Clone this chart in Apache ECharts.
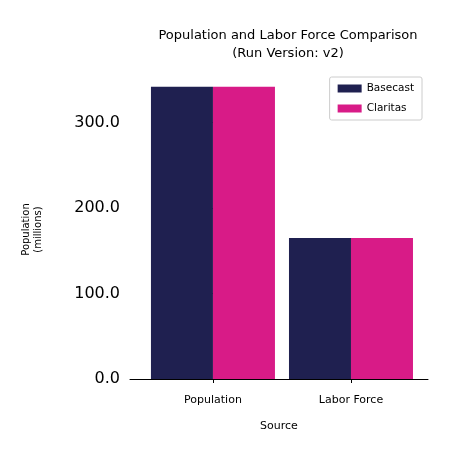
<!DOCTYPE html><html><head><meta charset="utf-8"><script src="https://cdn.jsdelivr.net/npm/echarts@6/dist/echarts.min.js"></script></head><body style="margin:0"><div id="c" style="width:450px;height:450px"></div><script>
const categories=['Population','Labor Force'];
const basecast=[342,165];
const claritas=[342,165];
const yTicks=[0,100,200,300];
const ch=echarts.init(document.getElementById('c'));
const F='DejaVu Sans';
ch.setOption({
 animation:false,
 title:{text:'Population and Labor Force Comparison\n(Run Version: v2)',left:283,top:22,textAlign:'center',textStyle:{fontFamily:F,fontSize:13,fontWeight:'normal',color:'#000',lineHeight:18}},
 legend:{right:28,top:77,orient:'vertical',itemWidth:24,itemHeight:8,itemGap:9,padding:[6,8],borderColor:'#ccc',borderWidth:1,borderRadius:2,textStyle:{fontFamily:F,fontSize:10.5,color:'#000'},data:['Basecast','Claritas'],icon:'rect'},
 grid:{left:130,right:22,top:80,bottom:71},
 xAxis:{type:'value',min:-0.601,max:1.558,name:'Source',nameLocation:'middle',nameGap:42,nameTextStyle:{fontFamily:F,fontSize:11,color:'#000'},splitLine:{show:false},axisLine:{show:true,lineStyle:{color:'#000'}},axisTick:{show:true,customValues:[0,1],length:4,lineStyle:{color:'#000'}},axisLabel:{customValues:[0,1],fontFamily:F,fontSize:11,color:'#000',margin:16,formatter:v=>categories[Math.round(v)]}},
 yAxis:{type:'value',min:0,max:350,name:'Population\n(millions)',nameLocation:'middle',nameGap:86,nameTextStyle:{fontFamily:F,fontSize:10,color:'#000',lineHeight:12},axisLine:{show:false},axisTick:{show:true,customValues:yTicks,length:6,lineStyle:{color:'#000'}},splitLine:{show:false},axisLabel:{customValues:yTicks,fontFamily:F,fontSize:16,color:'#000',margin:10,formatter:v=>v.toFixed(1)}},
 series:[
  {name:'Basecast',type:'bar',data:basecast.map((v,i)=>[i,v]),barWidth:62,barGap:'0%',itemStyle:{color:'#1f2050'}},
  {name:'Claritas',type:'bar',data:claritas.map((v,i)=>[i,v]),barWidth:62,itemStyle:{color:'#d81b87'}}
 ]
});
</script></body></html>
